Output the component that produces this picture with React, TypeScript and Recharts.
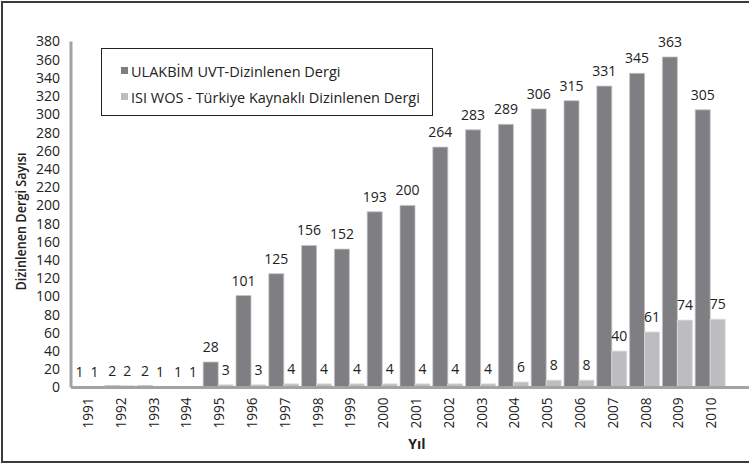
import React from 'react';
import { BarChart, Bar, XAxis, YAxis, LabelList, Legend, Label } from 'recharts';

const years = ['1991', '1992', '1993', '1994', '1995', '1996', '1997', '1998', '1999', '2000', '2001', '2002', '2003', '2004', '2005', '2006', '2007', '2008', '2009', '2010'];
const ulakbimValues = [1, 2, 2, 1, 28, 101, 125, 156, 152, 193, 200, 264, 283, 289, 306, 315, 331, 345, 363, 305];
const isiValues = [1, 2, 1, 1, 3, 3, 4, 4, 4, 4, 4, 4, 4, 6, 8, 8, 40, 61, 74, 75];
const yTicks = [0, 20, 40, 60, 80, 100, 120, 140, 160, 180, 200, 220, 240, 260, 280, 300, 320, 340, 360, 380];
const seriesNames = ['ULAKBİM UVT-Dizinlenen Dergi', 'ISI WOS - Türkiye Kaynaklı Dizinlenen Dergi'];
const xTitle = 'Yıl';
const yTitle = 'Dizinlenen Dergi Sayısı';

const DARK = '#7f7f83';
const LIGHT = '#bdbdc0';
const AXIS = '#a3a3a3';
const TEXT = '#222222';
const FONT = '"Open Sans", "Noto Sans", sans-serif';

const data = years.map((y, i) => ({ year: y, ulakbim: ulakbimValues[i], isi: isiValues[i] }));

const XTick = (props: any) => {
  const { x, y, payload } = props;
  return (
    <text
      x={x}
      y={y}
      transform={`rotate(-90, ${x}, ${y})`}
      textAnchor="end"
      dominantBaseline="central"
      fontSize={14}
      fontFamily={FONT}
      fill={TEXT}
      textLength={31}
      lengthAdjust="spacingAndGlyphs"
    >
      {payload.value}
    </text>
  );
};

const LegendBox = () => {
  const colors = [DARK, LIGHT];
  return (
    <div
      style={{
        position: 'relative',
        width: 332,
        height: 68,
        border: '1.5px solid #222',
        boxSizing: 'border-box',
        background: '#fff',
        fontFamily: FONT,
        fontSize: 14.5,
        color: TEXT,
      }}
    >
      {seriesNames.map((n, i) => (
        <div key={n} style={{ position: 'absolute', left: 19, top: i === 0 ? 13 : 39, height: 20, lineHeight: '20px', whiteSpace: 'nowrap' }}>
          <span style={{ display: 'inline-block', width: 7, height: 7, background: colors[i], verticalAlign: 'top', marginTop: 5, marginRight: 3 }} />
          <span>{n}</span>
        </div>
      ))}
    </div>
  );
};

const YTitle = (props: any) => {
  const vb = props.viewBox || {};
  const cx = 20;
  const cy = vb.y + vb.height / 2 + 7;
  return (
    <text x={cx} y={cy} transform={`rotate(-90, ${cx}, ${cy})`} textAnchor="middle" dominantBaseline="central" fontSize={15} fontWeight={600} fontFamily={FONT} fill={TEXT} textLength={138} lengthAdjust="spacingAndGlyphs">
      {yTitle}
    </text>
  );
};

const XTitle = (props: any) => {
  const vb = props.viewBox || {};
  const cx = 417;
  const cy = vb.y + 56;
  return (
    <text x={cx} y={cy} textAnchor="middle" dominantBaseline="central" fontSize={14} fontWeight="bold" fontFamily={FONT} fill={TEXT}>
      {xTitle}
    </text>
  );
};

export default function App() {
  return (
    <div style={{ position: 'absolute', left: 0, top: 0, width: 749, height: 464, overflow: 'hidden', background: '#fff' }}>
      <div style={{ position: 'absolute', left: 1, top: 1, width: 770, height: 462, border: '2px solid #3a3a3a', boxSizing: 'border-box' }} />
      <BarChart
        width={749}
        height={464}
        data={data}
        margin={{ top: 41.5, right: 0, bottom: 0, left: 0 }}
        barCategoryGap={1}
        barGap={0}
      >
        <XAxis
          dataKey="year"
          interval={0}
          tickLine={false}
          tickMargin={4}
          axisLine={{ stroke: AXIS, strokeWidth: 3 }}
          tick={<XTick />}
          padding={{ left: 0, right: 22 }}
          height={76.5}
        >
          <Label content={<XTitle />} />
        </XAxis>
        <YAxis
          width={71}
          domain={[0, 380]}
          ticks={yTicks}
          interval={0}
          tickLine={false}
          tickMargin={5}
          axisLine={{ stroke: AXIS, strokeWidth: 3 }}
          tick={{ fontSize: 14, fontFamily: FONT, fill: TEXT }}
        >
          <Label content={<YTitle />} />
        </YAxis>
        <Legend
          layout="vertical"
          align="center"
          verticalAlign="middle"
          content={<LegendBox />}
          wrapperStyle={{ left: 101, top: 48, width: 332, height: 68 }}
        />
        <Bar dataKey="ulakbim" name={seriesNames[0]} fill={DARK} stroke="#c4c4c6" strokeWidth={0.8} isAnimationActive={false}>
          <LabelList dataKey="ulakbim" position="top" offset={10} fontSize={14} fontFamily={FONT} fill={TEXT} />
        </Bar>
        <Bar dataKey="isi" name={seriesNames[1]} fill={LIGHT} stroke="#dcdcde" strokeWidth={0.8} isAnimationActive={false}>
          <LabelList dataKey="isi" position="top" offset={10} fontSize={14} fontFamily={FONT} fill={TEXT} />
        </Bar>
      </BarChart>
    </div>
  );
}
